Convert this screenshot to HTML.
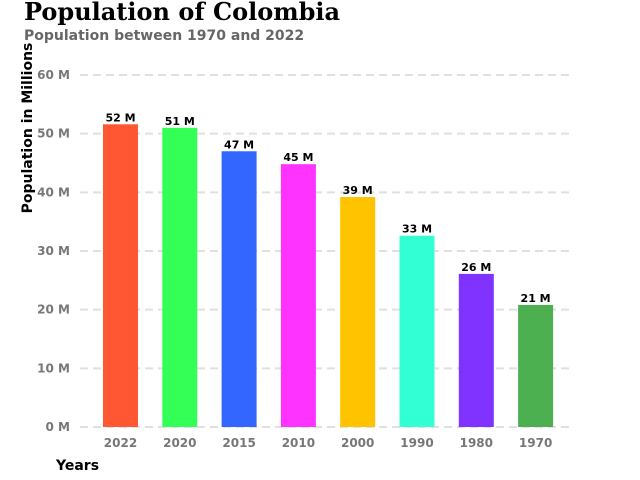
<!DOCTYPE html>
<html><head><meta charset="utf-8"><style>
body{margin:0;background:#fff;}
svg{display:block;}
</style></head><body>
<svg id="chart" width="640" height="480" xmlns="http://www.w3.org/2000/svg">
<text x="24" y="20" font-family="DejaVu Serif, serif" font-weight="bold" font-size="24" fill="#000">Population of Colombia</text>
<text x="24" y="40" font-family="DejaVu Sans, sans-serif" font-weight="bold" font-size="14" fill="#666">Population between 1970 and 2022</text>
<text transform="translate(32,128) rotate(-90)" text-anchor="middle" font-family="DejaVu Sans, sans-serif" font-weight="bold" font-size="14" fill="#000">Population in Millions</text>
<text x="56" y="470" font-family="DejaVu Sans, sans-serif" font-weight="bold" font-size="14" fill="#000">Years</text>
<g id="grid"></g><g id="bars"></g>
</svg>
<script>
const categories=["2022","2020","2015","2010","2000","1990","1980","1970"];
const values=[51.6,51.0,47.0,44.8,39.2,32.6,26.1,20.8];
const valueLabels=["52 M","51 M","47 M","45 M","39 M","33 M","26 M","21 M"];
const colors=["#FF5733","#33FF57","#3366FF","#FF33FF","#FFC300","#33FFD4","#8033FF","#4CAF50"];
const yTicks=[0,10,20,30,40,50,60];
const NS="http://www.w3.org/2000/svg";
const x0=80,x1=574,yBase=427,yTop=75,yMax=60;
const y=v=>yBase-(v/yMax)*(yBase-yTop);
const step=59.3;
const xc=i=>120.5+step*i;
const grid=document.getElementById('grid'),bars=document.getElementById('bars');
function mk(t,a,p){const e=document.createElementNS(NS,t);for(const k in a)e.setAttribute(k,a[k]);p.appendChild(e);return e;}
yTicks.forEach(t=>{
 const l=mk('line',{x1:x0,x2:x1,y1:y(t),y2:y(t),stroke:'#e0e0e0','stroke-width':2,'stroke-dasharray':'8,5'},grid);
 
 
 const tx=mk('text',{x:70,y:y(t)+4,'text-anchor':'end','font-family':'DejaVu Sans, sans-serif','font-weight':'bold','font-size':12,fill:'#777'},grid);
 tx.textContent=t+' M';
 
 
});
categories.forEach((c,i)=>{
 const w=35,cx=xc(i);
 const r=mk('rect',{x:cx-w/2,y:y(values[i]),width:w,height:yBase-y(values[i]),fill:colors[i]},bars);
 
 
 const v=mk('text',{x:cx,y:y(values[i])-3,'text-anchor':'middle','font-family':'DejaVu Sans, sans-serif','font-weight':'bold','font-size':11,fill:'#000'},bars);
 v.textContent=valueLabels[i];
 
 
 const t=mk('text',{x:cx,y:447,'text-anchor':'middle','font-family':'DejaVu Sans, sans-serif','font-weight':'bold','font-size':12,fill:'#777'},bars);
 t.textContent=c;
 
 
});
</script>
</body></html>
